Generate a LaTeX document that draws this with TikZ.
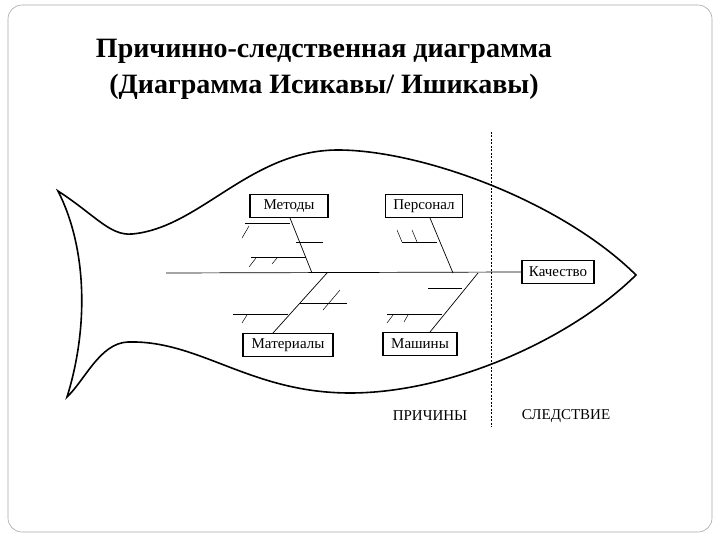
\documentclass[tikz,border=0pt]{standalone}
\usepackage{fontspec}
\setmainfont{Liberation Serif}
\begin{document}
\begin{tikzpicture}[x=1pt,y=-1pt,
  box/.style={draw,line width=1.2pt,inner sep=1pt,minimum height=23pt,font=\fontsize{15}{16}\selectfont},
  bone/.style={line width=0.7pt},
  tick/.style={line width=0.5pt}]
\useasboundingbox (0,0) rectangle (720,540);
\draw[gray!70,line width=0.6pt,rounded corners=14pt] (8,5) rectangle (712,532);
\node[font=\bfseries\fontsize{28}{36}\selectfont,align=center] (title) at (324,69) {Причинно-следственная диаграмма\\(Диаграмма Исикавы/ Ишикавы)};
% fish
\draw[line width=1.6pt] (58,191) .. controls (95,215) and (110,236) .. (132,234)
  .. controls (200,228) and (250,150) .. (338,150)
  .. controls (420,150) and (560,200) .. (636,275)
  .. controls (570,340) and (450,393) .. (350,393)
  .. controls (250,393) and (200,340) .. (128,342)
  .. controls (100,343) and (85,380) .. (67,397)
  .. controls (88,330) and (88,250) .. (58,191) -- cycle;
\draw[line width=1pt,dash pattern=on 2pt off 1.5pt] (491,132) coordinate (dt) -- (491,427) coordinate (db);
\node[box,minimum width=78pt] (met) at (289,206) {Методы};
\node[box,minimum width=77pt] (per) at (424,206) {Персонал};
\node[box,minimum width=90pt] (mat) at (288,345) {Материалы};
\node[box,minimum width=74pt] (mach) at (420,344) {Машины};
\node[box,minimum width=72pt] (kach) at (558,272) {Качество};
\node[font=\fontsize{15}{16}\selectfont] (pr) at (430,416) {ПРИЧИНЫ};
\node[font=\fontsize{15}{16}\selectfont] (sl) at (566,416) {СЛЕДСТВИЕ};
\coordinate (s0) at (166,273);
\draw[bone] (s0) -- (kach.west);
% Methods
\draw[bone] (290,218) -- (312,273);
\draw[bone] (245,223) -- (290,223);
\draw[bone] (296,242) -- (323,242);
\draw[bone] (251,257) -- (306,257);
\draw[tick] (249,226) -- (242,238);
\draw[tick] (256,258) -- (249,267);
\draw[tick] (277,258) -- (272,264);
% Personal
\draw[bone] (430,218) -- (453,273);
\draw[bone] (402,242) -- (437,242);
\draw[tick] (397,230) -- (402,242);
\draw[tick] (412,230) -- (417,242);
% Materials
\draw[bone] (327,273) -- (273,333);
\draw[bone] (300,303) -- (347,303);
\draw[bone] (233,314) -- (288,314);
\draw[tick] (340,290) -- (323,310);
\draw[tick] (247,315) -- (242,323);
% Machines
\draw[bone] (478,273) -- (430,332);
\draw[bone] (428,288) -- (462,288);
\draw[bone] (387,314) -- (442,314);
\draw[tick] (393,315) -- (387,323);
\draw[tick] (408,315) -- (404,322);
\end{tikzpicture}
\end{document}
